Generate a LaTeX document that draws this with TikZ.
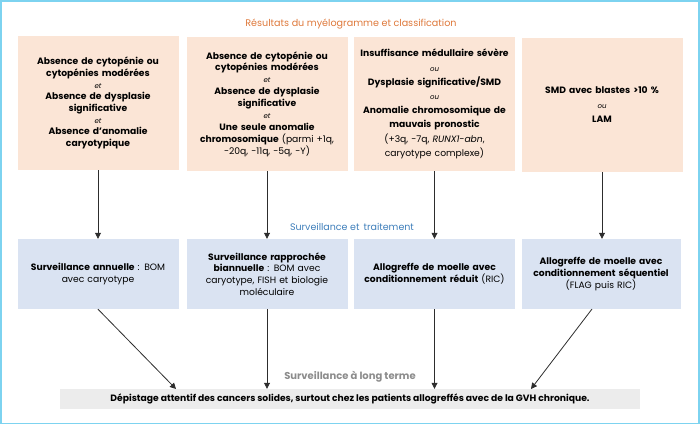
\documentclass[tikz,border=0pt]{standalone}
\usepackage{fontspec}
\setmainfont{Poppins}
\usetikzlibrary{arrows.meta,calc}
\definecolor{framecyan}{RGB}{125,211,240}
\definecolor{peach}{RGB}{251,229,214}
\definecolor{paleblue}{RGB}{218,227,242}
\definecolor{palegray}{RGB}{236,236,236}
\definecolor{titleorange}{RGB}{222,120,58}
\definecolor{labelblue}{RGB}{62,126,186}
\definecolor{labelgray}{RGB}{140,140,140}
\definecolor{arrowgray}{RGB}{45,45,45}
\newcommand{\liaison}[1]{{\fontsize{7}{8}\selectfont\mdseries\itshape #1}}
\newcommand{\normaltxt}[1]{{\mdseries #1}}
\tikzset{
  resbox/.style={fill=peach,minimum width=161pt,minimum height=134pt,inner sep=0,
    align=center,text width=158pt},
  survbox/.style={fill=paleblue,minimum width=161pt,minimum height=70pt,inner sep=0,
    align=center,text width=158pt,font=\fontsize{9.2}{11.8}\selectfont\bfseries},
  fleche/.style={draw=arrowgray,line width=0.8pt,-{Triangle[width=6pt,length=6pt]}}
}
\begin{document}
\begin{tikzpicture}[x=1pt,y=-1pt]
\useasboundingbox (0,0) rectangle (700,425);
\draw[framecyan,line width=1.5pt] (1,1) rectangle (699,423.5); %frame

%titles
\node[titleorange,font=\fontsize{9.6}{11}\selectfont] (titre) at (351,24) {Résultats du myélogramme et classification};
\node[labelblue,font=\fontsize{9.5}{11}\selectfont] (suivi) at (352,227) {Surveillance et\, traitement};
\node[labelgray,font=\fontsize{10}{11}\selectfont\bfseries] (terme) at (350,377) {Surveillance à long terme};

%results of the myelogram
\node[resbox,font=\fontsize{9.2}{11.7}\selectfont\bfseries] (r1) at (98,103) {Absence de cytopénie ou\\ cytopénies modérées\\ \liaison{et}\\ Absence de dysplasie\\ significative\\ \liaison{et}\\ Absence d’anomalie\\ caryotypique};
\node[resbox,font=\fontsize{9.2}{11.9}\selectfont\bfseries] (r2) at (267,104) {Absence de cytopénie ou\\ cytopénies modérées\\ \liaison{et}\\ Absence de dysplasie\\ significative\\ \liaison{et}\\ Une seule anomalie\\ chromosomique \normaltxt{(parmi +1q,}\\ \normaltxt{-20q, -11q, -5q, -Y)}};
\node[resbox,font=\fontsize{9.2}{14.2}\selectfont\bfseries] (r3) at (434.5,104) {Insuffisance médullaire sévère\\ \liaison{ou}\\ Dysplasie significative/SMD\\ \liaison{ou}\\ Anomalie chromosomique de\\ mauvais pronostic\\ \normaltxt{(+3q, -7q, \textit{RUNX1-abn},}\\ \normaltxt{caryotype complexe)}};
\node[resbox,font=\fontsize{9.2}{14.5}\selectfont\bfseries] (r4) at (602,105) {SMD avec blastes >10 \%\\ \liaison{ou}\\ LAM};

%surveillance and treatment
\node[survbox] (s1) at (98,274) {Surveillance annuelle \normaltxt{: BOM}\\ \normaltxt{avec caryotype}};
\node[survbox] (s2) at (267,274) {Surveillance rapprochée\\ biannuelle \normaltxt{: BOM avec}\\ \normaltxt{caryotype, FISH et biologie}\\ \normaltxt{moléculaire}};
\node[survbox] (s3) at (434.5,274) {Allogreffe de moelle avec\\ conditionnement réduit \normaltxt{(RIC)}};
\node[survbox,minimum width=159pt] (s4) at (601,274) {Allogreffe de moelle avec\\ conditionnement séquentiel\\ \normaltxt{(FLAG puis RIC)}};

%long term
\node[fill=palegray,minimum width=580pt,minimum height=20pt,inner sep=0,font=\fontsize{9.2}{10}\selectfont\bfseries] (depist) at (350,399) {Dépistage attentif des cancers solides, surtout chez les patients allogreffés avec de la GVH chronique.};
\coordinate (d1) at (176,389);
\coordinate (d4) at (531,389);
\coordinate (s4dep) at (592,309);

%arrows
\foreach \i in {1,...,4}
  \draw[fleche] (r\i.south) -- (r\i.south |- s\i.north);
\draw[fleche] (s1.south) -- (d1);
\draw[fleche] (s2.south) -- (s2.south |- depist.north);
\draw[fleche] (s3.south) -- (s3.south |- depist.north);
\draw[fleche] (s4dep) -- (d4);
\end{tikzpicture}
\end{document}
